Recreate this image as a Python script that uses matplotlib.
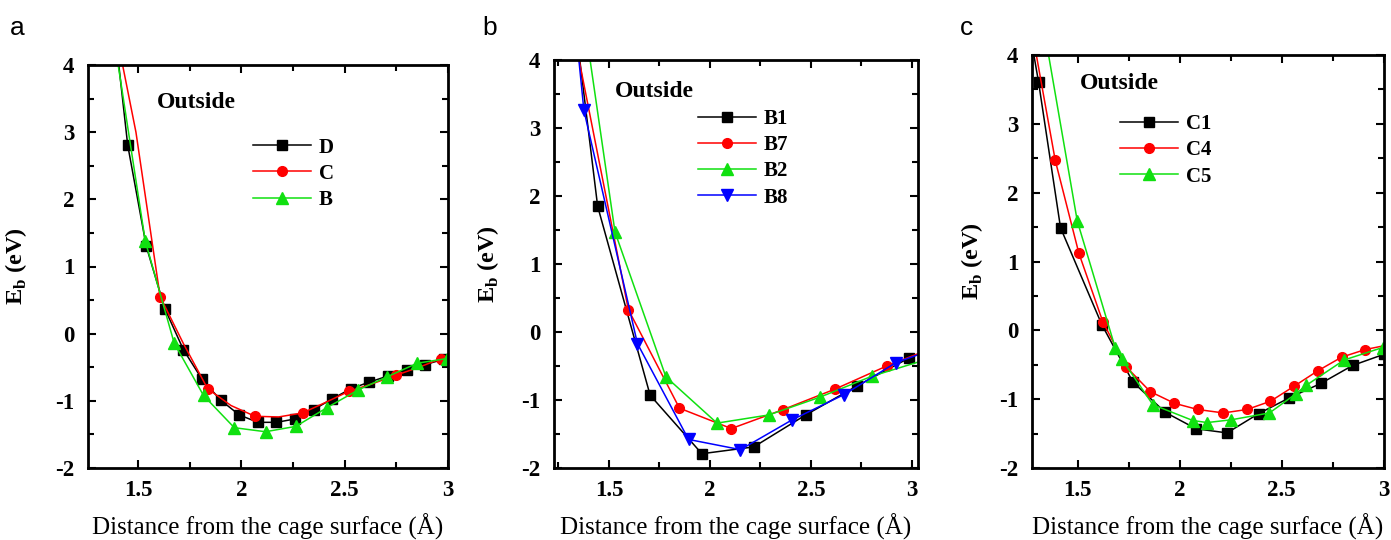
import matplotlib
matplotlib.use('Agg')
import matplotlib.pyplot as plt
from matplotlib.ticker import MultipleLocator

plt.rcParams['font.family'] = ['Liberation Serif', 'DejaVu Serif']
plt.rcParams['mathtext.fontset'] = 'custom'
plt.rcParams['mathtext.rm'] = 'Liberation Serif'
plt.rcParams['mathtext.bf'] = 'Liberation Serif:bold'

# ---------------- data ----------------
# panel a
a_D_x = [1.36, 1.45, 1.54, 1.63, 1.72, 1.81, 1.90, 1.99, 2.08, 2.17, 2.26, 2.35, 2.44, 2.53, 2.62, 2.71, 2.80, 2.89, 2.98]
a_D_y = [5.3, 2.81, 1.30, 0.37, -0.24, -0.68, -0.99, -1.21, -1.32, -1.32, -1.27, -1.13, -0.97, -0.82, -0.72, -0.63, -0.54, -0.46, -0.38]
a_C_x = [1.377, 1.49, 1.607, 1.72, 1.837, 1.95, 2.066, 2.18, 2.296, 2.41, 2.519, 2.63, 2.747, 2.86, 2.967]
a_C_y = [4.75, 3.0, 0.55, -0.15, -0.82, -1.07, -1.23, -1.24, -1.18, -1.02, -0.86, -0.75, -0.62, -0.50, -0.37]
a_B_x = [1.388, 1.535, 1.675, 1.817, 1.966, 2.117, 2.264, 2.415, 2.564, 2.707, 2.851, 2.995]
a_B_y = [4.32, 1.38, -0.14, -0.92, -1.40, -1.46, -1.38, -1.10, -0.84, -0.64, -0.44, -0.37]

# panel b
b_B1_x = [1.187, 1.444, 1.704, 1.96, 2.217, 2.474, 2.73, 2.987]
b_B1_y = [8.1, 1.85, -0.93, -1.79, -1.69, -1.22, -0.79, -0.38]
b_B7_x = [1.339, 1.596, 1.849, 2.106, 2.363, 2.619, 2.875, 3.132]
b_B7_y = [4.2, 0.33, -1.12, -1.42, -1.14, -0.84, -0.50, -0.20]
b_B2_x = [1.275, 1.53, 1.782, 2.035, 2.291, 2.543, 2.802, 3.055]
b_B2_y = [6.7, 1.47, -0.66, -1.34, -1.22, -0.96, -0.65, -0.42]
b_B8_x = [1.12, 1.376, 1.641, 1.894, 2.151, 2.408, 2.664, 2.921, 3.178]
b_B8_y = [10.9, 3.26, -0.17, -1.58, -1.73, -1.29, -0.92, -0.45, -0.18]

# panel c
c_C1_x = [1.25, 1.307, 1.415, 1.618, 1.77, 1.928, 2.08, 2.232, 2.387, 2.538, 2.693, 2.848, 3.0]
c_C1_y = [4.58, 3.61, 1.49, 0.08, -0.75, -1.19, -1.43, -1.49, -1.21, -0.98, -0.77, -0.51, -0.35]
c_C4_x = [1.272, 1.389, 1.505, 1.623, 1.737, 1.855, 1.974, 2.088, 2.214, 2.33, 2.445, 2.562, 2.676, 2.794, 2.909, 3.025]
c_C4_y = [4.4, 2.47, 1.12, 0.12, -0.53, -0.89, -1.06, -1.15, -1.20, -1.15, -1.03, -0.81, -0.59, -0.39, -0.28, -0.21]
c_C5_x = [1.33, 1.497, 1.683, 1.716, 1.868, 2.064, 2.134, 2.252, 2.44, 2.571, 2.62, 2.807, 2.995]
c_C5_y = [4.45, 1.59, -0.25, -0.42, -1.08, -1.31, -1.34, -1.30, -1.20, -0.92, -0.80, -0.43, -0.25]

x_ticks = [1.5, 2, 2.5, 3]
x_tick_labels = ['1.5', '2', '2.5', '3']
y_ticks = [-2, -1, 0, 1, 2, 3, 4]
panel_letters = ['a', 'b', 'c']
annotation = 'Outside'
x_label = 'Distance from the cage surface (Å)'
y_label = r'E$_\mathbf{b}$ (eV)'

# ---------------- style ----------------
GREEN = '#10e010'
W, H = 1391, 540
fig = plt.figure(figsize=(W / 100, H / 100), dpi=100)

def px_rect(l, r, t, b):
    return [l / W, 1 - b / H, (r - l) / W, (b - t) / H]

def make_panel(rect, xlim, series, leg_xy, out_xy, ylab_x, letter, letter_px):
    ax = fig.add_axes(rect)
    for x, y, color, marker, ms, label, mev in series:
        ax.plot(x, y, color=color, lw=1.1, marker=marker, ms=ms,
                markevery=mev, label=label, mec=color, mfc=color)
    ax.set_xlim(*xlim)
    ax.set_ylim(-2, 4)
    ax.set_xticks(x_ticks)
    ax.set_xticklabels(x_tick_labels)
    ax.set_yticks(y_ticks)
    ax.set_yticklabels([str(v) for v in y_ticks])
    ax.xaxis.set_minor_locator(MultipleLocator(0.25))
    ax.yaxis.set_minor_locator(MultipleLocator(0.5))
    ax.tick_params(which='both', direction='in', top=True, right=True, width=1.5)
    ax.tick_params(which='major', length=6, labelsize=16.5)
    ax.tick_params(axis='x', which='major', pad=9)
    ax.tick_params(axis='y', which='major', pad=10)
    ax.tick_params(which='minor', length=4)
    for lab in ax.get_xticklabels() + ax.get_yticklabels():
        lab.set_fontweight('bold')
    for sp in ax.spines.values():
        sp.set_linewidth(2)
    ax.set_xlabel(x_label, fontsize=18, labelpad=9)
    ax.set_ylabel(y_label, fontsize=17.5, fontweight='bold')
    ax.yaxis.set_label_coords(ylab_x, 0.5)
    ax.text(out_xy[0], out_xy[1], annotation, transform=ax.transAxes,
            fontsize=17, fontweight='bold', ha='left', va='center')
    ax.legend(loc='upper left', bbox_to_anchor=leg_xy, frameon=False,
              borderpad=0, borderaxespad=0, handlelength=2.8,
              handletextpad=0.35, labelspacing=0.3, numpoints=1,
              prop={'family': 'Liberation Serif', 'weight': 'bold', 'size': 15})
    fig.text(letter_px / W, 1 - 28 / H, letter, family='Liberation Sans',
             fontsize=19, ha='left', va='center')
    return ax

make_panel(px_rect(88, 448, 65, 468), (1.258, 3.0),
           [(a_D_x, a_D_y, 'black', 's', 6.5, 'D', 1),
            (a_C_x, a_C_y, 'red', 'o', 7, 'C', 2),
            (a_B_x, a_B_y, GREEN, '^', 9, 'B', 1)],
           (0.458, 0.82), (0.19, 0.906), -0.163, panel_letters[0], 10)

make_panel(px_rect(554, 918, 60, 468), (1.228, 3.03),
           [(b_B1_x, b_B1_y, 'black', 's', 6.5, 'B1', 1),
            (b_B7_x, b_B7_y, 'red', 'o', 7, 'B7', 1),
            (b_B2_x, b_B2_y, GREEN, '^', 9, 'B2', 1),
            (b_B8_x, b_B8_y, 'blue', 'v', 9, 'B8', 1)],
           (0.395, 0.88), (0.168, 0.924), -0.145, panel_letters[1], 482)

make_panel(px_rect(1032, 1384, 55, 468), (1.275, 3.002),
           [(c_C1_x, c_C1_y, 'black', 's', 6.5, 'C1', 1),
            (c_C4_x, c_C4_y, 'red', 'o', 7, 'C4', 1),
            (c_C5_x, c_C5_y, GREEN, '^', 9, 'C5', 1)],
           (0.25, 0.857), (0.136, 0.931), -0.134, panel_letters[2], 960)

fig.savefig('out.png', dpi=100)
